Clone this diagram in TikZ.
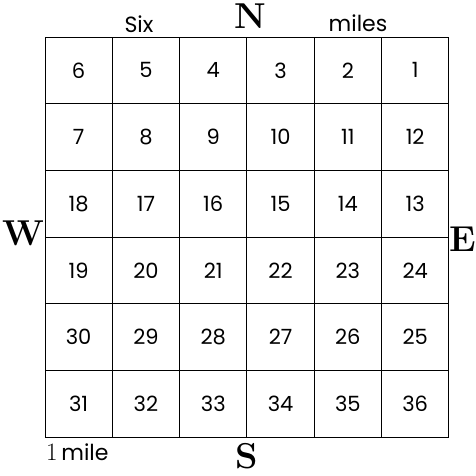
\documentclass[tikz,border=0pt]{standalone}
\usepackage{fontspec}
\usepackage{xcolor}
\newfontfamily\gridfont{Poppins}
\usepackage{tikz}

\begin{document}
\begin{tikzpicture}[x=1pt,y=-1pt,
    cell/.style={draw=black, line width=1pt, minimum width=67.3pt,
      minimum height=66.7pt, inner sep=0pt, outer sep=0pt,
      font=\gridfont\fontsize{21}{21}\selectfont},
    compass/.style={anchor=base, inner sep=0pt,
      font=\fontsize{36}{36}\selectfont\bfseries},
    edgetext/.style={anchor=base, inner sep=0pt,
      font=\gridfont\fontsize{22}{22}\selectfont}
  ]
  \useasboundingbox (0,0) rectangle (476,475);
  % the 36 sections of the township
  \foreach \r in {0,...,5}{
    \foreach \c in {0,...,5}{
      \pgfmathtruncatemacro{\sec}{isodd(\r) ? 6*\r+\c+1 : 6*\r+6-\c}
      \node[cell] (s\sec) at ({45+67.3*(\c+0.5)},{37+66.7*(\r+0.5)}) {\sec};
    }
  }
  \node[compass] (north) at (250,28) {N};
  \node[compass] (south) at (247,468) {S};
  \node[compass] (west) at (23,245) {W};
  \node[compass] (east) at (463,251) {E};
  \node[edgetext] (six) at (139,32) {Six};
  \node[edgetext] (miles) at (358,31) {miles};
  \node[edgetext, anchor=base west] (onemile) at (46,460)
    {{\rmfamily\fontsize{25}{25}\selectfont 1}\,mile};
\end{tikzpicture}
\end{document}
